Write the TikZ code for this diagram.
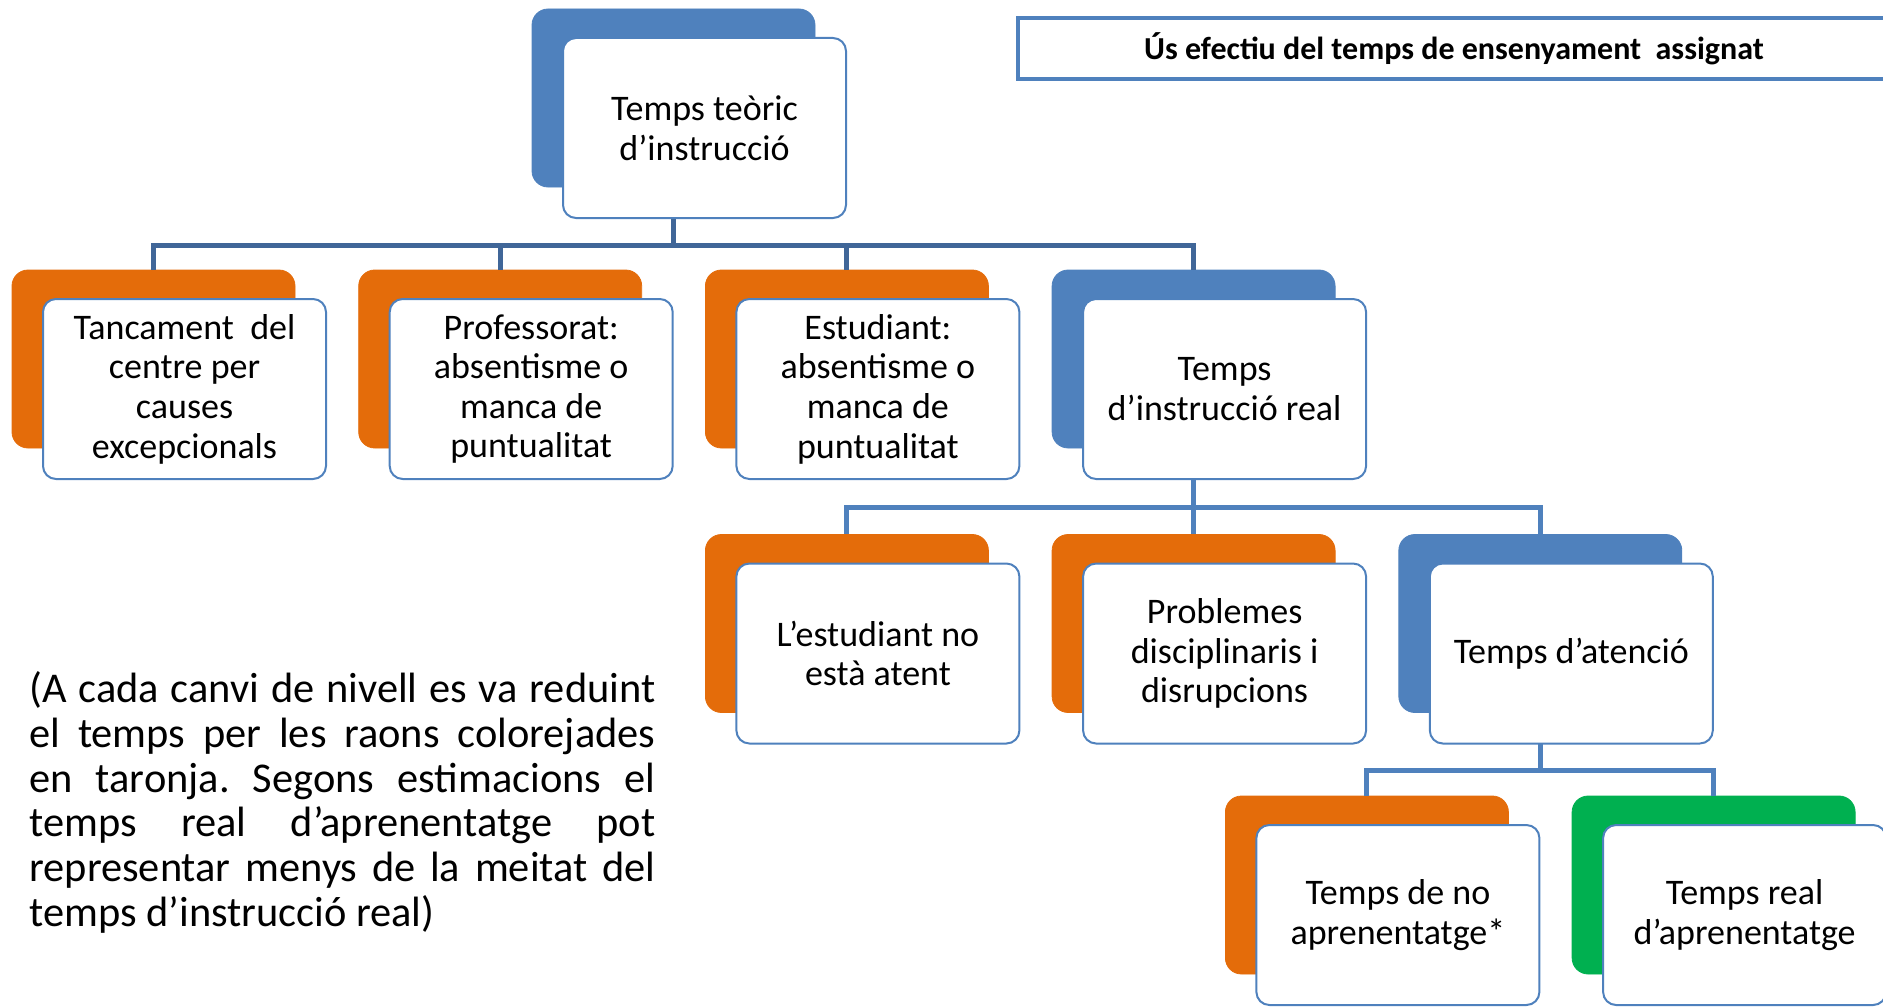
\documentclass[tikz,border=0pt]{standalone}
\usepackage{fontspec}
\setmainfont{Carlito}
\usetikzlibrary{positioning}
\frenchspacing

\definecolor{blau}{RGB}{79,129,189}
\definecolor{taronja}{RGB}{228,108,10}
\definecolor{verd}{RGB}{0,176,80}
\definecolor{linia}{RGB}{64,102,152}

\def\ux{0.5pt}
\def\uy{-0.5pt}
\def\dx{346.7}
\def\amplenota{313pt}

\tikzset{
  fons/.style={draw=#1, fill=#1, rounded corners=8pt, minimum width=141.5pt, minimum height=89pt, inner sep=0pt},
  caixa/.style={draw=blau, line width=1pt, fill=white, rounded corners=6.5pt, minimum width=141.5pt, minimum height=90pt, inner sep=0pt, align=center, font=\fontsize{18}{19.8}\selectfont},
  enllac/.style={draw=#1, line width=2.5pt},
  enllac/.default=blau,
  titol/.style={draw=blau, line width=2.2pt, minimum width=436pt, minimum height=30.5pt, inner sep=0pt, font=\bfseries\fontsize{16}{19}\selectfont},
  nota/.style={anchor=north west, inner sep=0pt, align=left, font=\fontsize{21.2}{22.4}\selectfont}
}

\begin{document}
\begin{tikzpicture}[x=\ux,y=\uy]
  \useasboundingbox (0,0) rectangle (1883,1006);

  \node[titol] (titol) at (1454,48.5) {Ús efectiu del temps de ensenyament\ \ assignat};

  % caixes de fons
  \node[fons=blau] (b0) at (673.5,98) {};
  \foreach \i/\c in {1/taronja,2/taronja,3/taronja,4/blau}
    \node[fons=\c] (b1\i) at ({153.5+(\i-1)*\dx},359) {};
  \foreach \i/\c in {1/taronja,2/taronja,3/blau}
    \node[fons=\c] (b2\i) at ({846.9+(\i-1)*\dx},623.5) {};
  \node[fons=taronja] (b31) at (1366.9,885) {};
  \node[fons=verd] (b32) at (1713.6,885) {};

  % connexions
  \coordinate (barra1) at (0,245);
  \coordinate (barra2) at (0,507);
  \coordinate (barra3) at (0,770);
  \foreach \i in {1,...,4}
    \draw[enllac=linia] (b0.south) -- (b0.south |- barra1) -| (b1\i.north);
  \foreach \i in {1,...,3}
    \draw[enllac] (b14.south) -- (b14.south |- barra2) -| (b2\i.north);
  \foreach \i in {1,2}
    \draw[enllac] (b23.south) -- (b23.south |- barra3) -| (b3\i.north);

  % caixes de text
  \node[caixa] (f0) at ([shift={(31,30)}]b0) {Temps teòric\\d’instrucció};
  \foreach \i/\txt in {1/{Tancament\ \ del\\centre per\\causes\\excepcionals},
                       2/{Professorat:\\absentisme o\\manca de\\puntualitat},
                       3/{Estudiant:\\absentisme o\\manca de\\puntualitat},
                       4/{Temps\\d’instrucció real}}
    \node[caixa] (f1\i) at ([shift={(31,30)}]b1\i) {\txt};
  \foreach \i/\txt in {1/{L’estudiant no\\està atent},
                       2/{Problemes\\disciplinaris i\\disrupcions},
                       3/{Temps d’atenció}}
    \node[caixa] (f2\i) at ([shift={(31,30)}]b2\i) {\txt};
  \node[caixa] (f31) at ([shift={(31,30)}]b31) {Temps de no\\aprenentatge*};
  \node[caixa] (f32) at ([shift={(31,30)}]b32) {Temps real\\d’aprenentatge};

  \node[nota] (nota) at (29,671) {%
    \makebox[\amplenota][s]{(A cada canvi de nivell es va reduint}\\
    \makebox[\amplenota][s]{el temps per les raons colorejades}\\
    \makebox[\amplenota][s]{en taronja. Segons estimacions el}\\
    \makebox[\amplenota][s]{temps real d’aprenentatge pot}\\
    \makebox[\amplenota][s]{representar menys de la meitat del}\\
    temps d’instrucció real)};
\end{tikzpicture}
\end{document}
